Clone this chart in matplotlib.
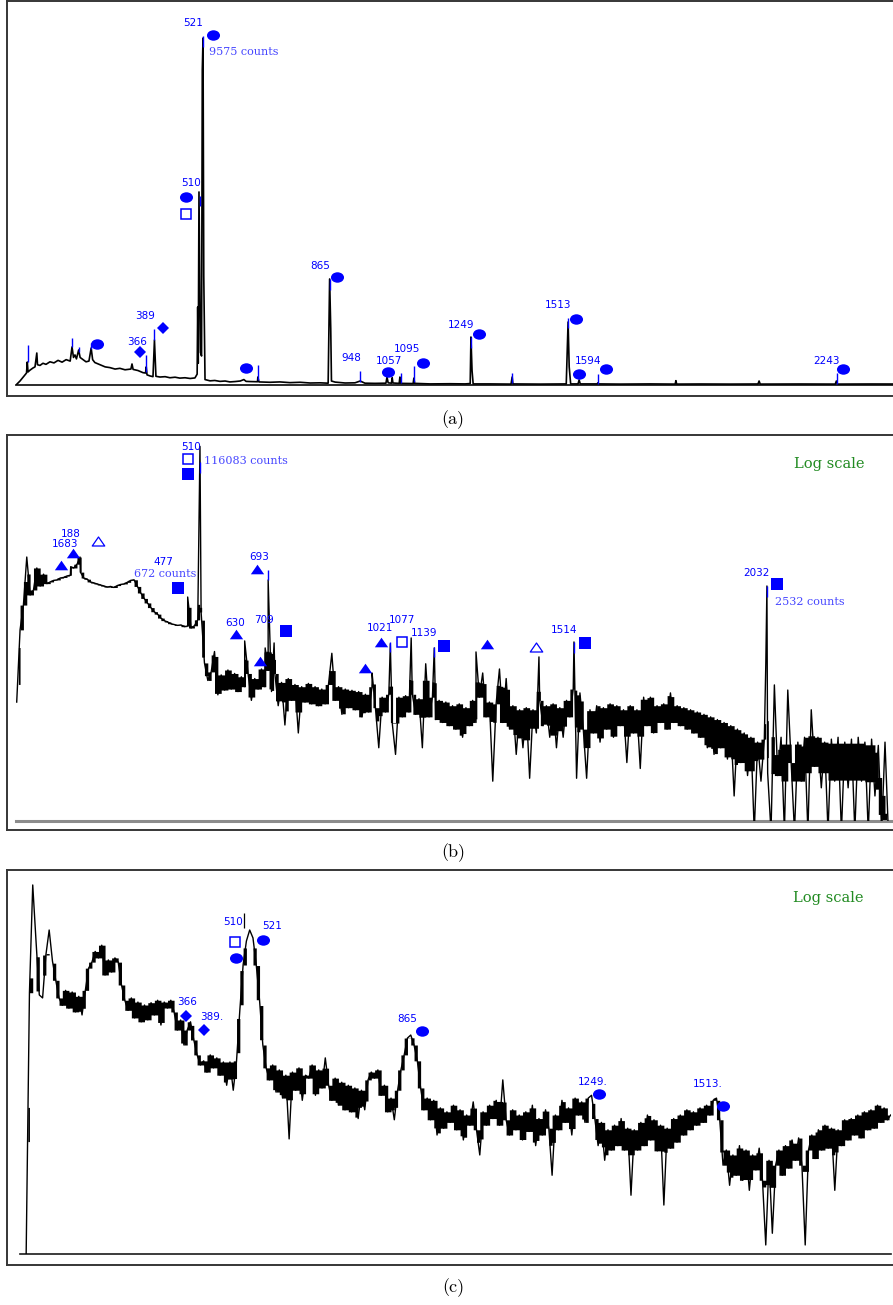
import numpy as np
import matplotlib
matplotlib.use("Agg")
import matplotlib.pyplot as plt
from matplotlib.path import Path
from matplotlib.transforms import offset_copy
from numpy.lib.stride_tricks import sliding_window_view

# ====================== DATA ======================
# ---- panel (a): linear-scale spectrum (energy keV, counts) ----
a_energy = [12.8, 23.6, 34.5, 41.3, 43.5, 45.4, 50.8, 59, 64.4, 69.3, 71.2, 78, 86, 94.3,
            105, 116, 127, 138, 149, 160, 165, 169, 173, 177, 183, 187, 195, 203, 211, 217,
            221, 227, 241, 255, 268, 282, 295, 309, 325, 328, 331, 344, 358, 364.7, 366.6,
            368.8, 377, 385, 389, 393, 404, 418, 431, 445, 458, 472, 486, 499, 505, 506.5,
            508, 510, 514, 517, 519, 521, 523, 526.4, 540, 553, 567, 581, 594, 608, 622,
            632, 638, 649, 669, 670, 673, 689, 703, 730, 757, 785, 812, 839, 861, 865, 868,
            870, 880, 907, 934, 948, 961, 988, 1018, 1021, 1024, 1033, 1035, 1037, 1054,
            1056, 1058, 1084, 1092, 1094, 1096, 1138, 1192, 1233, 1247, 1249, 1252, 1255,
            1301, 1358, 1361, 1363, 1437, 1508, 1513, 1516, 1520, 1540, 1543, 1546, 1592,
            1594, 1596, 1654, 1736, 1804, 1806, 1808, 1872, 1953, 2029, 2032, 2035, 2143,
            2239, 2242, 2245, 2334, 2396]
a_counts = [0, 110, 248, 330, 635, 360, 410, 470, 500, 883, 560, 540, 600, 570,
            640, 610, 680, 630, 700, 660, 1050, 760, 830, 720, 966, 760, 700, 640, 660, 1020,
            700, 620, 560, 500, 480, 440, 460, 420, 440, 580, 430, 400, 340, 330, 500,
            280, 250, 230, 1242, 240, 220, 230, 200, 215, 190, 200, 180, 195, 300, 2150,
            600, 5327, 900, 800, 8700, 9575, 3000, 150, 115, 125, 100, 110, 85, 95, 110,
            150, 100, 95, 90, 220, 85, 80, 75, 85, 65, 75, 55, 60, 50, 2926, 1570,
            110, 80, 55, 60, 110, 50, 45, 50, 220, 60, 50, 200, 55, 45,
            220, 45, 40, 40, 190, 45, 30, 35, 30, 40, 1325, 400, 30,
            30, 25, 220, 30, 25, 30, 1739, 500, 30, 30, 140, 30, 30,
            60, 30, 25, 30, 25, 120, 25, 28, 25, 28, 110, 25, 28,
            25, 110, 25, 28, 27]
# blue peak-marker ticks (energy, lower counts, upper counts)
a_blue_E = [44.6, 165, 184, 217, 366, 388, 513, 521, 865, 670, 948, 1059, 1094, 1249, 1361, 1513, 1594, 2244]
a_blue_lo = [635, 1049, 911, 994, 359, 1242, 4940, 9329, 2622, 138, 83, 55, 83, 1021, 55, 1573, 28, 28]
a_blue_hi = [1104, 1297, 1049, 1159, 828, 1546, 5216, 9632, 2926, 552, 386, 331, 524, 1325, 331, 1849, 304, 331]
# labelled peaks: anchor energy / counts
a_ann_E = [217, 366, 389, 510, 521, 670, 865, 948, 1059, 1094, 1249, 1513, 1594, 2244]
a_ann_counts = [1159, 828, 1546, 5216, 9632, 552, 2926, 386, 331, 524, 1325, 1849, 304, 331]

# ---- panel (b): log-scale spectrum, rebinned channels (E = 18 + 9*ch keV) ----
b_cal = (18.0, 9.0)
b_counts = [105, 760, 1500, 5600, 1980, 2270, 4150, 2530, 3500, 2700,
            2830, 2950, 2990, 3150, 3200, 3330, 3400, 4150, 4600, 3700,
            3150, 3050, 2830, 2750, 2680, 2600, 2530, 2460, 2500, 2430,
            2560, 2640, 2680, 2800, 2950, 3000, 2500, 2090, 1800, 1590,
            1400, 1250, 1170, 1050, 980, 944, 900, 880, 860, 870,
            830, 845, 800, 850, 1000, 1240, 307, 190, 240, 420,
            128, 221, 146, 253, 150, 230, 140, 210, 160, 230,
            110, 200, 150, 260, 160, 250, 140, 230, 95, 180,
            56, 200, 110, 170, 45, 160, 105, 175, 100, 160,
            95, 150, 100, 170, 400, 110, 160, 75, 150, 90,
            145, 85, 140, 70, 130, 80, 160, 90, 30, 120,
            80, 130, 60, 25, 120, 70, 125, 80, 130, 75,
            115, 30, 300, 70, 120, 65, 110, 60, 105, 55,
            95, 50, 100, 40, 90, 55, 110, 60, 120, 233,
            70, 105, 12, 100, 260, 60, 200, 50, 95, 25,
            85, 30, 90, 13, 85, 45, 110, 55, 95, 40,
            100, 30, 90, 40, 110, 70, 150, 13, 135, 50,
            13, 85, 45, 95, 35, 90, 50, 100, 40, 95,
            55, 85, 20, 95, 45, 85, 17, 120, 55, 120,
            45, 95, 60, 100, 50, 135, 60, 95, 55, 90,
            50, 85, 45, 80, 40, 75, 30, 70, 25, 65,
            30, 60, 22, 55, 8, 50, 20, 45, 14, 40,
            3, 35, 12, 38, 15, 3, 168, 14, 40, 3,
            146, 20, 3, 35, 12, 40, 3, 85, 18, 40,
            10, 35, 3, 38, 12, 40, 3, 35, 10, 38,
            3, 40, 12, 35, 3, 38, 8, 32, 3, 35, 3]
b_peak_E = [163, 188, 477, 510, 630, 685, 693, 709, 972, 1021, 1077, 1139, 1251, 1420, 1514, 2029, 2032]
b_peak_counts = [4300, 5600, 1870, 116083, 561, 463, 2985, 531, 233, 520, 609, 463, 415, 362, 546, 300, 2532]
b_blue_E = [510, 693, 1021, 1139, 1514, 2032]
b_blue_lo = [56100, 2985, 415, 362, 405, 1870]
b_blue_hi = [75800, 3930, 546, 470, 546, 2532]
b_ann_E = [188, 477, 510, 630, 693, 709, 685, 1021, 972, 1077, 1139, 1251, 1420, 1514, 2032]
b_ann_counts = [5600, 1870, 116083, 561, 2985, 531, 463, 546, 233, 609, 470, 415, 362, 546, 2532]

# ---- panel (c): log-scale spectrum, rebinned channels (E = 44 + 7*ch keV) ----
c_cal = (44.0, 7.0)
c_counts = [1, 800, 12600, 3000, 755, 700, 2100, 3980, 1800, 1100,
            700, 580, 850, 540, 815, 490, 730, 453, 850, 1500,
            1750, 2300, 1950, 2700, 1260, 1850, 1360, 1950, 1750, 975,
            660, 510, 700, 420, 630, 380, 584, 400, 620, 453,
            660, 350, 630, 541, 660, 489, 308, 398, 210, 308,
            380, 239, 163, 126, 140, 105, 163, 117, 151, 97,
            136, 75, 136, 66, 140, 510, 1625, 3000, 3980, 3250,
            1625, 660, 210, 117, 86, 126, 63, 111, 54, 97,
            19, 105, 66, 117, 51, 97, 90, 126, 58, 111,
            70, 151, 75, 51, 90, 45, 81, 40, 75, 38,
            70, 32, 66, 40, 86, 105, 90, 111, 58, 75,
            38, 54, 31, 66, 111, 163, 251, 271, 210, 140,
            70, 40, 54, 31, 51, 21, 42, 25, 38, 29,
            45, 24, 40, 18.5, 35, 27, 49, 24, 12.6, 38,
            27, 45, 32, 51, 27, 86, 31, 21, 40, 24,
            35, 18.5, 38, 23, 45, 16, 32, 21, 40, 25,
            7.5, 35, 24, 51, 29, 42, 21, 54, 35, 49,
            29, 54, 58, 32, 16, 29, 11, 24, 14.3, 27,
            16, 32, 14.3, 25, 4.5, 24, 14.3, 29, 16, 35,
            18.5, 31, 14, 27, 3.5, 25, 15, 32, 17.5, 35,
            21, 40, 24, 38, 27, 42, 29, 45, 35, 51,
            54, 31, 9.7, 14.3, 5.8, 12.6, 7.5, 16, 6.6, 14.3,
            5.1, 12.6, 8.6, 15, 6.6, 1.26, 11, 1.7, 9.7, 14.3,
            7.5, 16, 9, 18.5, 11, 19.5, 9.7, 1.26, 14.3, 21,
            11.5, 24, 14.3, 27, 15, 25, 5.1, 24, 16, 31,
            18.5, 32, 21, 35, 19.5, 38, 24, 40, 25, 45,
            29, 42, 31, 35]
c_tick_E = [508]
c_tick_lo = [4190]
c_tick_hi = [6150]
c_ann_E = [508, 521, 366, 389, 865, 1249, 1513]
c_ann_counts = [6150, 3980, 350, 308, 285, 58, 54]

captions = ["(a)", "(b)", "(c)"]

# ====================== LAYOUT / STYLE ======================
W, H = 893, 1305
fig = plt.figure(figsize=(W / 100, H / 100), dpi=100)
BLUE = "#0000ff"


def rect(x0, ytop, x1, ybot):
    return [x0 / W, 1 - ybot / H, (x1 - x0) / W, (ybot - ytop) / H]


ell = Path.unit_circle()
ELLIPSE = Path(ell.vertices * np.array([1.0, 0.8]), ell.codes)
TRI = Path([(-1, -0.72), (1, -0.72), (0, 0.72), (-1, -0.72)],
           [Path.MOVETO, Path.LINETO, Path.LINETO, Path.CLOSEPOLY])
MK = {
    "o": dict(marker=ELLIPSE, ms=9.4, mfc=BLUE, mec=BLUE, mew=0),
    "D": dict(marker="D", ms=6.2, mfc=BLUE, mec=BLUE, mew=0),
    "s": dict(marker="s", ms=8.6, mfc=BLUE, mec=BLUE, mew=0),
    "S": dict(marker="s", ms=7.4, mfc="white", mec=BLUE, mew=1.1),
    "^": dict(marker=TRI, ms=9.6, mfc=BLUE, mec=BLUE, mew=0),
    "T": dict(marker=TRI, ms=9.0, mfc="white", mec=BLUE, mew=0.9),
}

# annotation layout: per anchor, list of (kind, dx_px, dy_px[, text])
a_layout = [
    [("o", 6, -1)],
    [("t", -9, 13, "366"), ("D", -6, 3)],
    [("t", -9.5, 13, "389"), ("D", 8.5, 1)],
    [("t", -8, 13, "510"), ("o", -13, -1), ("S", -13, -18)],
    [("t", -10, 13, "521"), ("o", 10, 1), ("c", 6, -16, "9575 counts")],
    [("o", -12, -3)],
    [("t", -9.6, 13, "865"), ("o", 7.4, 2)],
    [("t", -9, 13, "948")],
    [("t", -12, 12, "1057"), ("o", -13, 1)],
    [("t", -7, 17, "1095"), ("o", 9, 3)],
    [("t", -10, 12, "1249"), ("o", 8, 3)],
    [("t", -10, 13, "1513"), ("o", 8, -1)],
    [("t", -10, 13, "1594"), ("o", 8, 5), ("o", -19, 0)],
    [("t", -11, 12, "2243"), ("o", 6, 4)],
]
b_layout = [
    [("t", -9, 23, "188"), ("t", -15, 13, "1683"), ("^", -19, -8), ("^", -7, 4), ("T", 18, 16)],
    [("t", -24.7, 35, "477"), ("c", -53.7, 23, "672 counts"), ("s", -9.7, 9)],
    [("t", -9, -1, "510"), ("S", -12, -13), ("s", -12, -28), ("c", 4, -15, "116083 counts")],
    [("t", -9.7, 18, "630"), ("^", -8.7, 7)],
    [("t", -9, 23, "693"), ("^", -11, 11)],
    [("t", -10, 23, "709"), ("s", 12, 12)],
    [("^", -5, -13)],
    [("t", -10, 14, "1021"), ("^", -9, 0)],
    [("^", -7, 5)],
    [("t", -9, 18, "1077"), ("S", -9, -4)],
    [("t", -10, 14, "1139"), ("s", 10, 1)],
    [("^", 11, 8)],
    [("T", -3, 10)],
    [("t", -10, 12, "1514"), ("s", 11, -1)],
    [("t", -10, 13, "2032"), ("s", 10, 2), ("c", 8, -16, "2532 counts")],
]
c_layout = [
    [("t", -11, -9, "510"), ("S", -9, -29), ("o", -8, -45)],
    [("t", 22, 4, "521"), ("o", 13, -10)],
    [("t", 9.6, 23, "366"), ("D", 8.6, 9)],
    [("t", 24, 13, "389."), ("D", 16, 0)],
    [("t", -4.7, 14, "865"), ("o", 10.3, 2)],
    [("t", 1, 13, "1249."), ("o", 7, 1)],
    [("t", -8, 14, "1513."), ("o", 7, -8)],
]


def annotate(ax, Es, Cs, layout):
    for E, C, items in zip(Es, Cs, layout):
        for it in items:
            kind, dx, dy = it[0], it[1], it[2]
            tr = offset_copy(ax.transData, fig=fig, x=dx, y=dy, units="dots")
            if kind == "t":
                ax.text(E, C, it[3], transform=tr, ha="center", va="center",
                        color=BLUE, fontsize=7.5, family="DejaVu Sans", zorder=6)
            elif kind == "c":
                ax.text(E, C, it[3], transform=tr, ha="left", va="center",
                        color="#4646ff", fontsize=8, family="DejaVu Serif", zorder=6)
            else:
                ax.plot([E], [C], transform=tr, linestyle="none", clip_on=False,
                        zorder=7, **MK[kind])


def merged(E, C, pE, pC):
    E = np.concatenate([np.asarray(E, float), np.asarray(pE, float)])
    C = np.concatenate([np.asarray(C, float), np.asarray(pC, float)])
    o = np.argsort(E, kind="stable")
    return E[o], C[o]


def dense_trace(ax, E, C, core=0.14):
    """Draw a compressed spectrum: the polyline, plus the filled min/max
    span of every pair of neighbouring bins (limited to the noise core)."""
    E = np.asarray(E, float)
    lc = np.log10(np.asarray(C, float))
    med = np.median(sliding_window_view(np.pad(lc, 3, mode="edge"), 7), axis=1)
    lo = np.minimum(lc[:-1], lc[1:])
    hi = np.maximum(lc[:-1], lc[1:])
    m = 0.5 * (med[:-1] + med[1:])
    lo = np.maximum(lo, m - core)
    hi = np.minimum(hi, m + core)
    xm = 0.5 * (E[:-1] + E[1:])
    ok = hi > lo
    ax.fill_between(xm, 10 ** np.where(ok, lo, m), 10 ** np.where(ok, hi, m),
                    step="mid", color="black", lw=0, zorder=2.5)
    ax.plot(E, C, color="black", lw=1.0, zorder=3)


def frame(ytop, ybot):
    fa = fig.add_axes(rect(7, ytop, 910, ybot), zorder=0)
    fa.set_xticks([])
    fa.set_yticks([])
    fa.patch.set_visible(False)
    for s in fa.spines.values():
        s.set_color("#363636")
        s.set_linewidth(1.4)


def data_axes(x0, ytop, x1, ybot, base_color, base_lw):
    ax = fig.add_axes(rect(x0, ytop, x1, ybot), zorder=2)
    ax.patch.set_visible(False)
    ax.set_xticks([])
    ax.set_yticks([])
    for k in ("top", "left", "right"):
        ax.spines[k].set_visible(False)
    ax.spines["bottom"].set_color(base_color)
    ax.spines["bottom"].set_linewidth(base_lw)
    return ax


# ---------------- panel (a) ----------------
frame(1, 396)
axa = data_axes(16, 1, 893, 385, "#1a1a1a", 1.3)
axa.plot(a_energy, a_counts, color="black", lw=1.2, zorder=3)
axa.vlines(a_blue_E, a_blue_lo, a_blue_hi, color=BLUE, lw=1.0, zorder=4)
axa.set_xlim(12.77, 2395.9)
axa.set_ylim(0, 10598)
annotate(axa, a_ann_E, a_ann_counts, a_layout)

# ---------------- panel (b) ----------------
frame(435, 830)
axb = data_axes(16, 435, 891, 820.7, "#8c8c8c", 2.2)
bE = b_cal[0] + b_cal[1] * np.arange(len(b_counts))
bx, by = merged(bE, b_counts, b_peak_E, b_peak_counts)
axb.set_yscale("log")
dense_trace(axb, bx, by, core=0.22)
axb.vlines(b_blue_E, b_blue_lo, b_blue_hi, color=BLUE, lw=1.0, zorder=4)
axb.set_xlim(16.1, 2365.1)
axb.set_ylim(4.06, 158900)
axb.yaxis.set_minor_locator(matplotlib.ticker.NullLocator())
axb.yaxis.set_major_locator(matplotlib.ticker.NullLocator())
annotate(axb, b_ann_E, b_ann_counts, b_layout)
fig.text(829 / W, 1 - 464 / H, "Log scale", ha="center", va="center",
         color="#228b22", fontsize=10.5, family="DejaVu Serif")

# ---------------- panel (c) ----------------
frame(870, 1265)
axc = data_axes(20, 870, 891, 1254, "#1a1a1a", 1.2)
cE = c_cal[0] + c_cal[1] * np.arange(len(c_counts))
axc.set_yscale("log")
dense_trace(axc, cE, c_counts, core=0.19)
axc.vlines(c_tick_E, c_tick_lo, c_tick_hi, color="black", lw=0.9, zorder=4)
axc.set_xlim(30.88, 1885.7)
axc.set_ylim(1.0, 18480)
axc.yaxis.set_minor_locator(matplotlib.ticker.NullLocator())
axc.yaxis.set_major_locator(matplotlib.ticker.NullLocator())
annotate(axc, c_ann_E, c_ann_counts, c_layout)
fig.text(828 / W, 1 - 898 / H, "Log scale", ha="center", va="center",
         color="#228b22", fontsize=10.5, family="DejaVu Serif")

# ---------------- captions ----------------
for cap, y in zip(captions, [420, 853, 1288]):
    fig.text(453 / W, 1 - y / H, cap, ha="center", va="center",
             family="cmr10", fontsize=13)

fig.savefig("out.png", dpi=100)
